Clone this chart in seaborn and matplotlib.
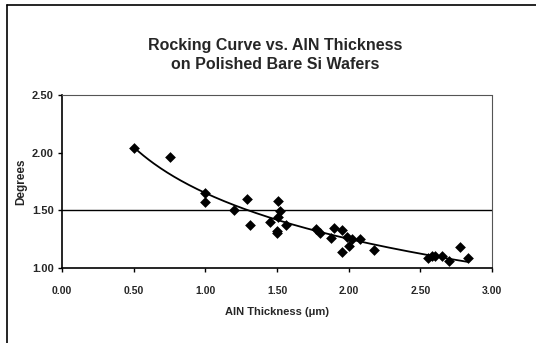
import numpy as np
import pandas as pd
import matplotlib
matplotlib.use("Agg")
import matplotlib.pyplot as plt
import seaborn as sns
from matplotlib.lines import Line2D

# ---- data ----
thickness = [0.50, 0.75, 1.00, 1.00, 1.20, 1.29, 1.31, 1.45, 1.51, 1.52, 1.51,
             1.50, 1.50, 1.56, 1.77, 1.80, 1.88, 1.90, 1.95, 1.95, 1.99, 2.00,
             2.02, 2.08, 2.18, 2.55, 2.58, 2.60, 2.65, 2.70, 2.78, 2.83]
degrees = [2.04, 1.96, 1.65, 1.57, 1.50, 1.60, 1.37, 1.40, 1.58, 1.49, 1.44,
           1.32, 1.30, 1.37, 1.34, 1.30, 1.26, 1.35, 1.33, 1.14, 1.27, 1.19,
           1.25, 1.25, 1.16, 1.09, 1.10, 1.10, 1.10, 1.06, 1.18, 1.09]
x_ticks = [0.00, 0.50, 1.00, 1.50, 2.00, 2.50, 3.00]
y_ticks = [1.00, 1.50, 2.00, 2.50]
title = "Rocking Curve vs. AlN Thickness\non Polished Bare Si Wafers"
x_label = "AlN Thickness (\u03bcm)"
y_label = "Degrees"

df = pd.DataFrame({"t": thickness, "d": degrees})

sns.set_theme(style="white")
plt.rcParams["font.family"] = ["Liberation Sans", "DejaVu Sans"]

fig = plt.figure(figsize=(5.36, 3.43), dpi=100)
W, H = 536, 343
L, R, T, B = 62, 492, 95, 268
ax = fig.add_axes([L / W, 1 - B / H, (R - L) / W, (B - T) / H])

# logarithmic trend line fitted to the data (as Excel trendline)
coef = np.polyfit(np.log(df["t"]), df["d"], 1)
xs = np.linspace(df["t"].min(), df["t"].max(), 200)
fit = pd.DataFrame({"t": xs, "d": coef[0] * np.log(xs) + coef[1]})

ax.axhline(1.5, color="black", lw=1.0, zorder=1)
sns.lineplot(data=fit, x="t", y="d", ax=ax, color="black", lw=1.3, zorder=2)
sns.scatterplot(data=df, x="t", y="d", ax=ax, marker="D", color="black",
                s=30, edgecolor="black", linewidth=0, zorder=3)

ax.set_xlim(0, 3)
ax.set_ylim(1, 2.5)
ax.set_xticks(x_ticks)
ax.set_yticks(y_ticks)
ax.set_xticklabels([f"{v:.2f}" for v in x_ticks], fontsize=7.5, fontweight="bold")
ax.set_yticklabels([f"{v:.2f}" for v in y_ticks], fontsize=8, fontweight="bold")
ax.tick_params(axis="both", which="both", direction="out", length=3, width=1,
               color="black", bottom=True, left=True)
ax.tick_params(axis="x", pad=10)
ax.tick_params(axis="y", pad=3)
ax.set_xlabel(x_label, fontsize=8, fontweight="bold", labelpad=8)
ax.set_ylabel(y_label, fontsize=8.5, fontweight="bold", labelpad=3)

for s in ["left", "bottom"]:
    ax.spines[s].set_color("black")
    ax.spines[s].set_linewidth(1.2)
for s in ["top", "right"]:
    ax.spines[s].set_color("#555555")
    ax.spines[s].set_linewidth(0.8)
    ax.spines[s].set_linestyle((0, (2, 1)))

fig.text(275 / W, 1 - 55 / H, title, ha="center", va="center",
         fontsize=11.5, fontweight="bold", linespacing=1.35)

# outer chart frame (left and top edges visible in the scan)
fig.add_artist(Line2D([7 / W, 7 / W], [0, 1 - 5 / H], transform=fig.transFigure,
                      color="black", lw=1.2))
fig.add_artist(Line2D([7 / W, 1], [1 - 5 / H, 1 - 5 / H], transform=fig.transFigure,
                      color="black", lw=1.2))

fig.savefig("out.png", dpi=100, facecolor="white")
